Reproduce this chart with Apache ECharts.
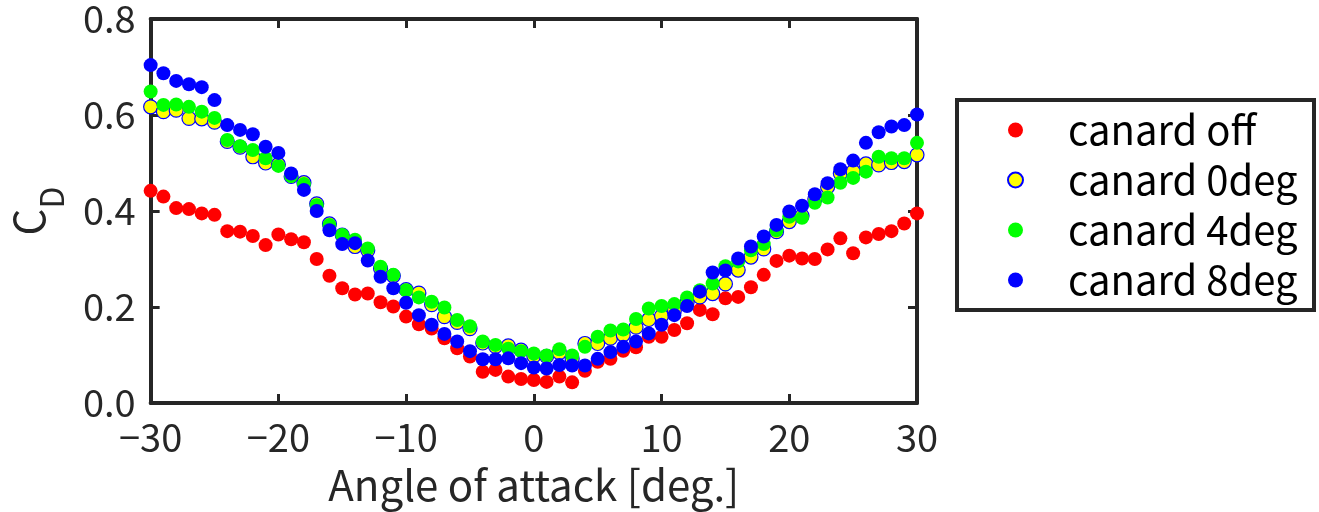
<!DOCTYPE html>
<html>
<head>
<meta charset="utf-8">
<script src="https://cdn.jsdelivr.net/npm/echarts@6/dist/echarts.min.js"></script>
<style>html,body{margin:0;padding:0;background:#fff}#c{width:1319px;height:512px}</style>
</head>
<body>
<div id="c"></div>
<script>
const angles = [];
for (let a = -30; a <= 30; a++) angles.push(a);

const canardOff = [0.442,0.430,0.406,0.404,0.395,0.392,0.358,0.357,0.348,0.329,0.351,0.341,0.335,0.300,0.265,0.239,0.226,0.228,0.210,0.201,0.180,0.164,0.155,0.135,0.114,0.097,0.065,0.069,0.055,0.050,0.048,0.044,0.055,0.043,0.067,0.086,0.092,0.109,0.116,0.138,0.138,0.152,0.166,0.194,0.185,0.218,0.221,0.241,0.267,0.296,0.307,0.301,0.300,0.320,0.343,0.312,0.345,0.352,0.358,0.374,0.395];
const canard0 = [0.617,0.607,0.610,0.593,0.592,0.585,0.545,0.533,0.513,0.500,0.497,0.472,0.459,0.415,0.373,0.350,0.326,0.318,0.280,0.265,0.236,0.229,0.205,0.180,0.168,0.155,0.125,0.118,0.119,0.110,0.098,0.097,0.105,0.092,0.124,0.124,0.135,0.142,0.158,0.174,0.181,0.192,0.210,0.221,0.228,0.248,0.277,0.304,0.321,0.357,0.378,0.390,0.425,0.450,0.478,0.482,0.498,0.496,0.501,0.503,0.517];
const canard4 = [0.649,0.621,0.622,0.617,0.607,0.594,0.548,0.535,0.527,0.510,0.494,0.473,0.456,0.412,0.371,0.350,0.340,0.322,0.284,0.267,0.235,0.220,0.211,0.199,0.173,0.160,0.128,0.121,0.113,0.108,0.103,0.099,0.112,0.099,0.117,0.138,0.151,0.153,0.175,0.197,0.202,0.206,0.220,0.235,0.249,0.285,0.295,0.318,0.331,0.360,0.388,0.386,0.417,0.428,0.459,0.469,0.482,0.513,0.510,0.510,0.542];
const canard8 = [0.704,0.687,0.671,0.664,0.658,0.631,0.579,0.569,0.560,0.534,0.521,0.478,0.444,0.400,0.360,0.331,0.333,0.297,0.263,0.239,0.209,0.183,0.163,0.144,0.128,0.108,0.091,0.091,0.093,0.083,0.074,0.072,0.079,0.078,0.078,0.092,0.106,0.117,0.128,0.145,0.163,0.183,0.202,0.232,0.272,0.276,0.301,0.326,0.347,0.371,0.399,0.411,0.435,0.458,0.487,0.505,0.542,0.564,0.576,0.579,0.601];

const seriesNames = ['canard off','canard 0deg','canard 4deg','canard 8deg'];
const xTicks = [-30,-20,-10,0,10,20,30];
const yTicks = [0.0,0.2,0.4,0.6,0.8];

const FONT = 'Noto Sans CJK JP';
const AX = '#262626';

function pairs(vals){ return angles.map((a,i)=>[a, vals[i]]); }

const chart = echarts.init(document.getElementById('c'), null, {renderer:'canvas'});

const axisCommon = {
  axisLine: {show:true, onZero:false, lineStyle:{color:AX, width:4}},
  axisTick: {show:true, inside:true, length:9, lineStyle:{color:AX, width:3}},
  splitLine: {show:false}
};

chart.setOption({
  animation: false,
  backgroundColor: '#fff',
  textStyle: {fontFamily: FONT},
  grid: {left:147, right:402, top:19, bottom:109, containLabel:false},
  xAxis: [
    Object.assign({}, axisCommon, {
      type:'value', position:'bottom', min:xTicks[0], max:xTicks[xTicks.length-1], interval:10,
      axisLabel:{show:true, margin:16, fontSize:38, color:AX, fontFamily:FONT,
        formatter:v=>String(v).replace('-','\u2212')},
      name:'Angle of attack [deg.]', nameLocation:'middle', nameGap:61,
      nameTextStyle:{fontSize:42, color:AX, fontFamily:FONT}
    }),
    Object.assign({}, axisCommon, {
      type:'value', position:'top', min:xTicks[0], max:xTicks[xTicks.length-1], interval:10,
      axisLabel:{show:false}
    })
  ],
  yAxis: [
    Object.assign({}, axisCommon, {
      type:'value', position:'left', min:yTicks[0], max:yTicks[yTicks.length-1], interval:0.2,
      axisLabel:{show:true, margin:15, fontSize:38, color:AX, fontFamily:FONT,
        formatter:v=>v.toFixed(1)},
      name:'{c|C}{d|D}', nameLocation:'middle', nameGap:74, nameRotate:90,
      nameTextStyle:{color:AX, fontFamily:FONT,
        rich:{
          c:{fontSize:42, lineHeight:42, padding:[0,0,22,0], color:AX, fontFamily:FONT},
          d:{fontSize:32, lineHeight:32, padding:[24,0,0,0], color:AX, fontFamily:FONT}
        }}
    }),
    Object.assign({}, axisCommon, {
      type:'value', position:'right', min:yTicks[0], max:yTicks[yTicks.length-1], interval:0.2,
      axisLabel:{show:false}
    })
  ],
  legend: {
    orient:'vertical', left:957, top:100,
    padding:[10,6,10,50],
    itemGap:10, itemWidth:15, itemHeight:15, icon:'circle',
    borderColor:AX, borderWidth:4, backgroundColor:'#fff',
    textStyle:{fontSize:40, lineHeight:40, color:'#000', fontFamily:FONT, padding:[0,0,0,40], width:240, overflow:'none'},
    data: seriesNames
  },
  series: [
    {name:seriesNames[0], type:'scatter', symbol:'circle', symbolSize:14, data:pairs(canardOff),
     itemStyle:{color:'#ff0000', opacity:1}},
    {name:seriesNames[1], type:'scatter', symbol:'circle', symbolSize:14, data:pairs(canard0),
     itemStyle:{color:'#ffff00', borderColor:'#0000ff', borderWidth:1.2, opacity:1}},
    {name:seriesNames[2], type:'scatter', symbol:'circle', symbolSize:14, data:pairs(canard4),
     itemStyle:{color:'#00ff00', opacity:1}},
    {name:seriesNames[3], type:'scatter', symbol:'circle', symbolSize:14, data:pairs(canard8),
     itemStyle:{color:'#0000ff', opacity:1}}
  ]
});
</script>
</body>
</html>
